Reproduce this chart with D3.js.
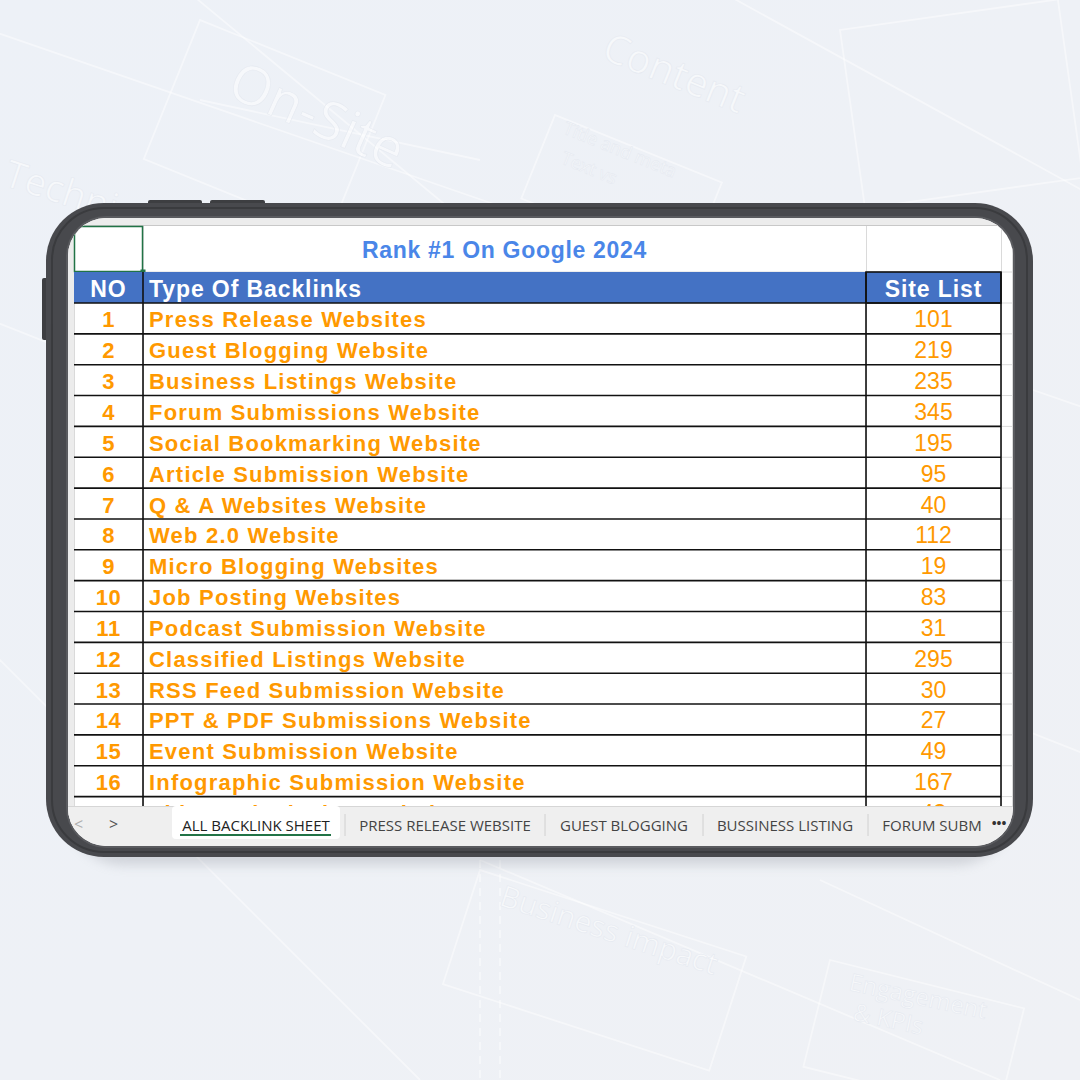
<!DOCTYPE html>
<html>
<head>
<meta charset="utf-8">
<script src="https://cdn.jsdelivr.net/npm/d3@7/dist/d3.min.js"></script>
<style>
  html, body { margin: 0; padding: 0; background: #eef1f6; }
  svg { display: block; }
</style>
</head>
<body>
<div id="chart"></div>
<script>
// ── Data ───────────────────────────────────────────────────────────────────
const TITLE = 'Rank #1 On Google 2024';
const HEADERS = ['NO', 'Type Of Backlinks', 'Site List'];
const numbers = [1, 2, 3, 4, 5, 6, 7, 8, 9, 10, 11, 12, 13, 14, 15, 16, 17];
const types = [
  'Press Release Websites', 'Guest Blogging Website', 'Business Listings Website',
  'Forum Submissions Website', 'Social Bookmarking Website', 'Article Submission Website',
  'Q & A Websites Website', 'Web 2.0 Website', 'Micro Blogging Websites',
  'Job Posting Websites', 'Podcast Submission Website', 'Classified Listings Website',
  'RSS Feed Submission Website', 'PPT & PDF Submissions Website', 'Event Submission Website',
  'Infographic Submission Website', 'Video Submission Website',
];
const siteCounts = [101, 219, 235, 345, 195, 95, 40, 112, 19, 83, 31, 295, 30, 27, 49, 167, 43];
const tabs = ['ALL BACKLINK SHEET', 'PRESS RELEASE WEBSITE', 'GUEST BLOGGING', 'BUSSINESS LISTING', 'FORUM SUBM'];
const bgWords = [
  { t: 'On-Site', x: 225, y: 95, s: 54, r: 24 },
  { t: 'Content', x: 600, y: 58, s: 40, r: 22 },
  { t: 'Title and meta', x: 562, y: 133, s: 18, r: 22 },
  { t: 'Text vs', x: 560, y: 163, s: 18, r: 22 },
  { t: 'Techni', x: 2, y: 185, s: 38, r: 18 },
  { t: 'Business impact', x: 498, y: 905, s: 30, r: 18 },
  { t: 'Engagement', x: 848, y: 990, s: 24, r: 12 },
  { t: '& KPIs', x: 852, y: 1020, s: 24, r: 12 },
];

// ── Layout ─────────────────────────────────────────────────────────────────
const W = 1080, H = 1080;
const ORANGE = '#ff9900', BLUE = '#4472c4', FONT = '"Liberation Sans", Arial, sans-serif';
const frame = { x: 46, y: 203, w: 987, h: 654, r: 58 };
const screen = { x: 68, y: 218, w: 945, h: 628, r: 38 };
const cols = [74, 143, 866, 1001];
const gridTop = 226, titleH = 46, headH = 31, rowH = 30.85;
const tabY = 806;

const svg = d3.select('#chart').append('svg').attr('width', W).attr('height', H);
const defs = svg.append('defs');

// background
const bgGrad = defs.append('linearGradient').attr('id', 'bg').attr('x1', 0).attr('y1', 0).attr('x2', 1).attr('y2', 1);
bgGrad.append('stop').attr('offset', 0).attr('stop-color', '#edf1f7');
bgGrad.append('stop').attr('offset', 1).attr('stop-color', '#eff1f5');
svg.append('rect').attr('width', W).attr('height', H).attr('fill', 'url(#bg)');

const deco = svg.append('g').attr('fill', 'none').attr('stroke', '#ffffff').attr('stroke-opacity', 0.45).attr('stroke-width', 1.8);
[[-40, 20, 1120, 420], [-60, 300, 1100, 760], [150, -40, 560, 300], [700, -20, 1100, 200],
 [-20, 640, 420, 1080], [480, 860, 1000, 1080], [820, 880, 1080, 1000], [200, 100, 480, 160]]
  .forEach(([x1, y1, x2, y2]) => deco.append('line').attr('x1', x1).attr('y1', y1).attr('x2', x2).attr('y2', y2));
[[200, 20, 200, 150, 22], [480, 870, 280, 120, 18], [830, 960, 200, 110, 14], [555, 115, 180, 90, 22], [840, 30, 220, 180, -8]]
  .forEach(([x, y, w, h, r]) => deco.append('rect').attr('x', x).attr('y', y).attr('width', w).attr('height', h)
    .attr('transform', `rotate(${r},${x},${y})`));
[1140, 1160, 480, 500].forEach(lx => deco.append('line').attr('x1', lx > 1000 ? lx - 0 : lx).attr('x2', lx > 1000 ? lx : lx)
  .attr('y1', 860).attr('y2', 1080).attr('stroke-dasharray', '8 6'));
svg.append('g').selectAll('text').data(bgWords).join('text')
  .attr('transform', d => `translate(${d.x},${d.y}) rotate(${d.r})`)
  .attr('font-family', '"Open Sans", sans-serif').attr('font-size', d => d.s)
  .attr('fill', '#ffffff').attr('fill-opacity', 0.5).attr('stroke', '#e6eaf1').attr('stroke-width', 0.6)
  .text(d => d.t);

// shadow under the tablet
const sh = defs.append('filter').attr('id', 'shadow').attr('x', -0.1).attr('y', -0.1).attr('width', 1.2).attr('height', 1.3);
sh.append('feGaussianBlur').attr('stdDeviation', 6);
svg.append('rect').attr('x', frame.x + 20).attr('y', frame.y + 18).attr('width', frame.w - 40).attr('height', frame.h - 10)
  .attr('rx', frame.r).attr('fill', '#8a8f99').attr('opacity', 0.3).attr('filter', 'url(#shadow)');

// side / top buttons
svg.append('rect').attr('x', 148).attr('y', 200).attr('width', 54).attr('height', 8).attr('rx', 2).attr('fill', '#3d3e41');
svg.append('rect').attr('x', 210).attr('y', 200).attr('width', 55).attr('height', 8).attr('rx', 2).attr('fill', '#3d3e41');
svg.append('rect').attr('x', 42).attr('y', 278).attr('width', 8).attr('height', 62).attr('rx', 2).attr('fill', '#3d3e41');

// frame
svg.append('rect').attr('x', frame.x).attr('y', frame.y).attr('width', frame.w).attr('height', frame.h)
  .attr('rx', frame.r).attr('fill', '#48494d');
svg.append('rect').attr('x', frame.x + 6).attr('y', frame.y + 5).attr('width', frame.w - 12).attr('height', frame.h - 10)
  .attr('rx', frame.r - 6).attr('fill', 'none').attr('stroke', '#3a3b3e').attr('stroke-width', 2);
svg.append('rect').attr('x', screen.x - 2).attr('y', screen.y - 2).attr('width', screen.w + 4).attr('height', screen.h + 4)
  .attr('rx', screen.r + 2).attr('fill', '#5a5b5f');

// screen
defs.append('clipPath').attr('id', 'scr').append('rect')
  .attr('x', screen.x).attr('y', screen.y).attr('width', screen.w).attr('height', screen.h).attr('rx', screen.r);
defs.append('clipPath').attr('id', 'sheet').append('rect')
  .attr('x', screen.x).attr('y', screen.y).attr('width', screen.w).attr('height', tabY - screen.y);
const S = svg.append('g').attr('clip-path', 'url(#scr)');
S.append('rect').attr('x', screen.x).attr('y', screen.y).attr('width', screen.w).attr('height', screen.h).attr('fill', '#ffffff');
// column header strip + row gutter
S.append('rect').attr('x', screen.x).attr('y', screen.y).attr('width', screen.w).attr('height', gridTop - screen.y).attr('fill', '#ececec');
S.append('rect').attr('x', screen.x).attr('y', screen.y).attr('width', cols[0] - screen.x).attr('height', screen.h).attr('fill', '#ececec');
S.append('line').attr('x1', screen.x).attr('x2', screen.x + screen.w).attr('y1', gridTop - 0.5).attr('y2', gridTop - 0.5).attr('stroke', '#c8c8c8');

// scales
const y = d3.scaleBand().domain(numbers).range([gridTop + titleH + headH, gridTop + titleH + headH + rowH * numbers.length]);
const x = d3.scaleOrdinal().domain(HEADERS).range(cols.slice(0, 3));
const colW = d3.scaleOrdinal().domain(HEADERS).range(d3.pairs(cols).map(([a, b]) => b - a));

const G = S.append('g').attr('clip-path', 'url(#sheet)');

// faint sheet gridlines
const faint = G.append('g').attr('stroke', '#dadada').attr('stroke-width', 1);
[cols[0], ...cols.slice(1), 1012].forEach(cx => faint.append('line').attr('x1', cx + 0.5).attr('x2', cx + 0.5).attr('y1', gridTop).attr('y2', tabY));
faint.append('line').attr('x1', cols[0]).attr('x2', 1013).attr('y1', gridTop + titleH).attr('y2', gridTop + titleH);
numbers.forEach(n => faint.append('line').attr('x1', cols[3]).attr('x2', 1013).attr('y1', y(n)).attr('y2', y(n)));

// title row
G.append('rect').attr('x', cols[0] + 0.5).attr('y', gridTop + 0.5).attr('width', cols[1] - cols[0] - 1).attr('height', titleH - 1)
  .attr('fill', 'none').attr('stroke', '#217346').attr('stroke-width', 1.5);
G.append('rect').attr('x', cols[1] - 2.5).attr('y', gridTop + titleH - 2.5).attr('width', 5).attr('height', 5).attr('fill', '#217346');
G.append('text').attr('x', (cols[1] + cols[2]) / 2).attr('y', gridTop + titleH / 2 + 9)
  .attr('text-anchor', 'middle').attr('font-family', FONT).attr('font-weight', 'bold').attr('font-size', 23)
  .attr('letter-spacing', 0.7).attr('fill', '#4a86e8').text(TITLE);

// header row
const hy = gridTop + titleH;
G.append('rect').attr('x', cols[0]).attr('y', hy).attr('width', cols[3] - cols[0]).attr('height', headH).attr('fill', BLUE);
G.selectAll('.hd').data(HEADERS).join('text').attr('class', 'hd')
  .attr('x', (d, i) => i === 1 ? x(d) + 6 : x(d) + colW(d) / 2)
  .attr('y', hy + headH / 2 + 9)
  .attr('text-anchor', (d, i) => i === 1 ? 'start' : 'middle')
  .attr('font-family', FONT).attr('font-weight', 'bold').attr('font-size', 23).attr('letter-spacing', 0.9)
  .attr('fill', '#ffffff').text(d => d);

// body rows
const rows = numbers.map((n, i) => ({ n, type: types[i], count: siteCounts[i] }));
const row = G.selectAll('.row').data(rows).join('g').attr('class', 'row').attr('transform', d => `translate(0,${y(d.n)})`);
row.append('text').attr('x', x('NO') + colW('NO') / 2).attr('y', rowH / 2 + 9).attr('text-anchor', 'middle')
  .attr('font-family', FONT).attr('font-weight', 'bold').attr('font-size', 22).attr('letter-spacing', 0.5).attr('fill', ORANGE).text(d => d.n);
row.append('text').attr('x', x('Type Of Backlinks') + 6).attr('y', rowH / 2 + 9)
  .attr('font-family', FONT).attr('font-weight', 'bold').attr('font-size', 22).attr('letter-spacing', 1.2).attr('fill', ORANGE).text(d => d.type);
row.append('text').attr('x', x('Site List') + colW('Site List') / 2).attr('y', rowH / 2 + 9).attr('text-anchor', 'middle')
  .attr('font-family', FONT).attr('font-size', 23).attr('fill', ORANGE).text(d => d.count);

// black table borders
const bl = G.append('g').attr('stroke', '#111').attr('stroke-width', 1.6);
numbers.forEach(n => bl.append('line').attr('x1', cols[0]).attr('x2', cols[3]).attr('y1', y(n) + rowH).attr('y2', y(n) + rowH));
bl.append('line').attr('x1', cols[0]).attr('x2', cols[3]).attr('y1', y(numbers[0])).attr('y2', y(numbers[0]));
[cols[1], cols[2], cols[3]].forEach(cx => bl.append('line').attr('x1', cx).attr('x2', cx).attr('y1', hy).attr('y2', tabY));
bl.append('rect').attr('x', cols[2]).attr('y', hy).attr('width', cols[3] - cols[2]).attr('height', headH).attr('fill', 'none');

// sheet tabs
S.append('rect').attr('x', screen.x).attr('y', tabY).attr('width', screen.w).attr('height', screen.y + screen.h - tabY).attr('fill', '#efefef');
S.append('line').attr('x1', screen.x).attr('x2', screen.x + screen.w).attr('y1', tabY + 0.5).attr('y2', tabY + 0.5).attr('stroke', '#d6d6d6');
const TF = '"Open Sans", "Noto Sans", sans-serif';
S.append('text').attr('x', 74).attr('y', 830).attr('font-family', TF).attr('font-size', 16).attr('fill', '#b0b0b0').text('<');
S.append('text').attr('x', 109).attr('y', 830).attr('font-family', TF).attr('font-size', 16).attr('fill', '#555').text('>');
const tabCenters = [256, 445, 624, 785, 932];
const seps = [345, 545, 703, 868];
S.append('rect').attr('x', 172).attr('y', tabY).attr('width', 168).attr('height', 33).attr('rx', 4).attr('fill', '#ffffff');
S.selectAll('.tab').data(tabs).join('text').attr('class', 'tab')
  .attr('x', (d, i) => tabCenters[i]).attr('y', 831).attr('text-anchor', 'middle')
  .attr('font-family', TF).attr('font-size', 15).attr('fill', (d, i) => i === 0 ? '#222' : '#444').text(d => d);
S.append('rect').attr('x', 180).attr('y', 834).attr('width', 151).attr('height', 2).attr('fill', '#217346');
seps.forEach(sx => S.append('line').attr('x1', sx).attr('x2', sx).attr('y1', 814).attr('y2', 836).attr('stroke', '#d0d0d0'));
S.append('text').attr('x', 999).attr('y', 828).attr('text-anchor', 'middle').attr('font-family', TF).attr('font-weight', 'bold')
  .attr('font-size', 13).attr('fill', '#333').text('•••');
</script>
</body>
</html>
